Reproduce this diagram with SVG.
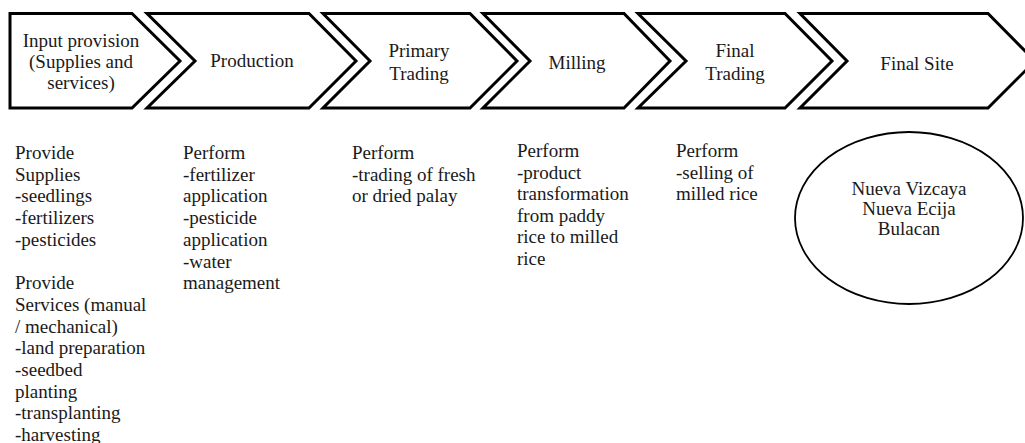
<svg xmlns="http://www.w3.org/2000/svg" width="1025" height="443" viewBox="0 0 1025 443">
<style>
.stage{fill:#fff;stroke:#000;stroke-width:3;stroke-linejoin:miter}
.t{font-family:'Liberation Serif','Tinos','Times New Roman','DejaVu Serif',serif;font-size:19px;fill:#1a1a1a}
.c{text-anchor:middle}
.site{fill:#fff;stroke:#000;stroke-width:1.8}
</style>
<rect width="1025" height="443" fill="#fff"/>
<g id="connectors"></g>
<g id="input-provision">
<polygon class="stage" points="10,13.5 132,13.5 180,61 132,108 10,108"/>
<text class="t c" x="81" y="47" font-family="Liberation Serif, serif">Input provision</text>
<text class="t c" x="81" y="68">(Supplies and</text>
<text class="t c" x="81" y="89">services)</text>
</g>
<g id="production">
<polygon class="stage" points="147,13.5 309,13.5 356,61 309,108 147,108 195,61"/>
<text class="t c" x="252" y="67">Production</text>
</g>
<g id="primary-trading">
<polygon class="stage" points="323,13.5 470,13.5 517,61 470,108 323,108 370,61"/>
<text class="t c" x="419" y="57">Primary</text>
<text class="t c" x="419" y="80">Trading</text>
</g>
<g id="milling">
<polygon class="stage" points="483,13.5 624,13.5 670,61 624,108 483,108 530,61"/>
<text class="t c" x="577" y="69">Milling</text>
</g>
<g id="final-trading">
<polygon class="stage" points="638,13.5 785,13.5 832,61 785,108 638,108 686,61"/>
<text class="t c" x="735" y="57">Final</text>
<text class="t c" x="735" y="80">Trading</text>
</g>
<g id="final-site">
<polygon class="stage" points="800,13.5 988,13.5 1035,61 988,108 800,108 847,61"/>
<text class="t c" x="917" y="70">Final Site</text>
</g>
<g id="desc-input">
<text class="t" x="15" y="159">
<tspan x="15" dy="0">Provide</tspan>
<tspan x="15" dy="21.7">Supplies</tspan>
<tspan x="15" dy="21.7">-seedlings</tspan>
<tspan x="15" dy="21.7">-fertilizers</tspan>
<tspan x="15" dy="21.7">-pesticides</tspan>
<tspan x="15" dy="43.4">Provide</tspan>
<tspan x="15" dy="21.7">Services (manual</tspan>
<tspan x="15" dy="21.7">/ mechanical)</tspan>
<tspan x="15" dy="21.7">-land preparation</tspan>
<tspan x="15" dy="21.7">-seedbed</tspan>
<tspan x="15" dy="21.7">planting</tspan>
<tspan x="15" dy="21.7">-transplanting</tspan>
<tspan x="15" dy="21.7">-harvesting</tspan>
</text>
</g>
<g id="desc-production">
<text class="t" x="183" y="159">
<tspan x="183" dy="0">Perform</tspan>
<tspan x="183" dy="21.7">-fertilizer</tspan>
<tspan x="183" dy="21.7">application</tspan>
<tspan x="183" dy="21.7">-pesticide</tspan>
<tspan x="183" dy="21.7">application</tspan>
<tspan x="183" dy="21.7">-water</tspan>
<tspan x="183" dy="21.7">management</tspan>
</text>
</g>
<g id="desc-primary-trading">
<text class="t" x="352" y="159">
<tspan x="352" dy="0">Perform</tspan>
<tspan x="352" dy="21.7">-trading of fresh</tspan>
<tspan x="352" dy="21.7">or dried palay</tspan>
</text>
</g>
<g id="desc-milling">
<text class="t" x="517" y="157">
<tspan x="517" dy="0">Perform</tspan>
<tspan x="517" dy="21.5">-product</tspan>
<tspan x="517" dy="21.5">transformation</tspan>
<tspan x="517" dy="21.5">from paddy</tspan>
<tspan x="517" dy="21.5">rice to milled</tspan>
<tspan x="517" dy="21.5">rice</tspan>
</text>
</g>
<g id="desc-final-trading">
<text class="t" x="676" y="157">
<tspan x="676" dy="0">Perform</tspan>
<tspan x="676" dy="21.7">-selling of</tspan>
<tspan x="676" dy="21.7">milled rice</tspan>
</text>
</g>
<g id="site-locations">
<ellipse class="site" cx="909" cy="218" rx="114" ry="86"/>
<text class="t c" x="909" y="195">Nueva Vizcaya</text>
<text class="t c" x="909" y="215">Nueva Ecija</text>
<text class="t c" x="909" y="235">Bulacan</text>
</g>
</svg>
